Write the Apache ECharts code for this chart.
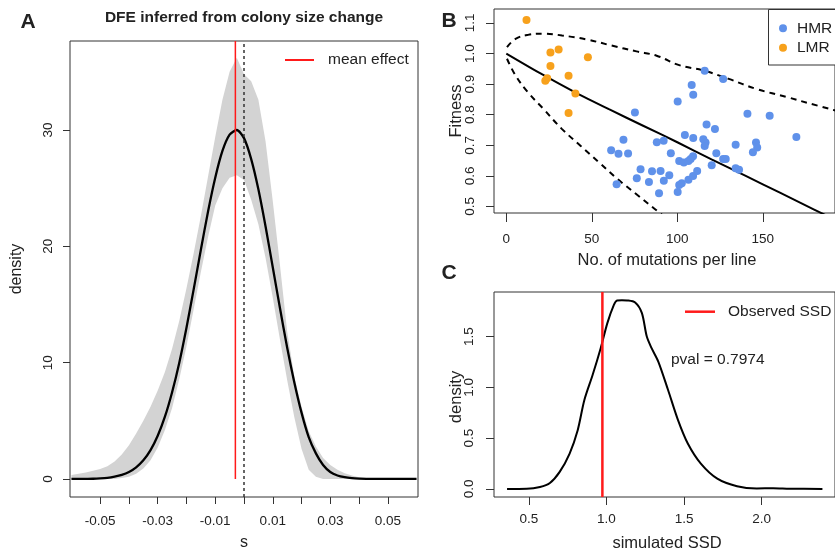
<!DOCTYPE html>
<html>
<head>
  <meta charset="utf-8" />
  <title>DFE figure</title>
  <style>
    html, body { margin: 0; padding: 0; background: #fff; }
    #chart { width: 835px; height: 551px; }
  </style>
</head>
<body>
  <div id="chart"></div>
  <script src="https://cdn.jsdelivr.net/npm/echarts@6.0.0/dist/echarts.min.js"></script>
  <script>
    // ---- panel A: DFE inferred from colony size change ----
    var sGrid = [-0.06, -0.0575, -0.055, -0.0525, -0.05, -0.0475, -0.045, -0.0425, -0.04, -0.0375,
      -0.035, -0.0325, -0.03, -0.0275, -0.025, -0.0225, -0.02, -0.0175, -0.015, -0.0125,
      -0.01, -0.0075, -0.005, -0.0025, 0, 0.0025, 0.005, 0.0075, 0.01, 0.0125,
      0.015, 0.0175, 0.02, 0.0225, 0.025, 0.0275, 0.03, 0.0325, 0.035, 0.0375,
      0.04, 0.0425, 0.045, 0.0475, 0.05, 0.0525, 0.055, 0.0575, 0.06];
    var dfeMean = [0, 0, 0.01, 0.02, 0.05, 0.10, 0.20, 0.35, 0.60, 1.00,
      1.60, 2.48, 3.71, 5.35, 7.46, 10.0, 13.0, 16.3, 19.7, 23.0,
      25.9, 28.2, 29.6, 30.0, 29.3, 27.5, 24.9, 21.7, 18.2, 14.7,
      11.3, 8.3, 5.7, 3.6, 2.2, 1.2, 0.6, 0.3, 0.15, 0.07,
      0.03, 0.01, 0, 0, 0, 0, 0, 0, 0];
    var dfeUpper = [0.35, 0.45, 0.55, 0.70, 0.85, 1.1, 1.5, 2.1, 2.9, 3.9,
      5.0, 6.2, 7.6, 9.2, 11.2, 13.6, 16.4, 19.4, 22.6, 26.0,
      29.4, 32.6, 35.0, 36.2, 34.8, 34.2, 32.6, 29.0, 23.9, 18.4,
      12.7, 8.8, 6.2, 4.1, 2.8, 1.8, 1.2, 0.8, 0.5, 0.3,
      0.15, 0.08, 0.03, 0, 0, 0, 0, 0, 0];
    var dfeLower = [0, 0, 0, 0, 0, 0, 0, 0.08, 0.2, 0.45,
      0.9, 1.6, 2.7, 4.2, 6.1, 8.6, 11.4, 14.6, 17.8, 20.8,
      23.5, 25.0, 25.9, 26.1, 25.7, 24.0, 21.9, 19.0, 15.6, 12.0,
      8.5, 5.3, 2.6, 0.8, 0.2, 0, 0, 0, 0, 0,
      0, 0, 0, 0, 0, 0, 0, 0, 0];
    var meanEffect = -0.003;
    var sTicks = [-0.05, -0.04, -0.03, -0.02, -0.01, 0, 0.01, 0.02, 0.03, 0.04, 0.05];
    var sLabels = [-0.05, -0.03, -0.01, 0.01, 0.03, 0.05];
    var densTicksA = [0, 10, 20, 30];

    // ---- panel B: fitness vs number of mutations ----
    var hmrMut = [61.3, 64.5, 65.6, 68.5, 71.2, 75.2, 76.3, 78.5, 83.4, 85.2, 88.0, 89.3, 90.2, 92.0, 92.1,
      95.3, 96.2, 100.2, 100.2, 101.1, 102.6, 101.1, 103.8, 106.5, 107.8, 109.2, 106.5, 109.2, 111.6,
      104.4, 109.3, 108.4, 109.3, 116.0, 126.8, 117.1, 122.0, 115.2, 116.5, 116.0, 122.8, 120.1,
      126.8, 128.3, 134.1, 134.1, 136.1, 141.0, 154.0, 146.0, 146.7, 144.2, 169.6];
    var hmrFit = [0.684, 0.573, 0.672, 0.718, 0.673, 0.807, 0.592, 0.622, 0.580, 0.615, 0.710, 0.543, 0.616, 0.715, 0.584,
      0.602, 0.674, 0.843, 0.547, 0.570, 0.576, 0.649, 0.644, 0.649, 0.655, 0.664, 0.587, 0.600, 0.616,
      0.734, 0.724, 0.897, 0.865, 0.944, 0.917, 0.768, 0.753, 0.720, 0.709, 0.698, 0.674, 0.635,
      0.655, 0.655, 0.702, 0.625, 0.620, 0.803, 0.797, 0.709, 0.693, 0.677, 0.727];
    var lmrMut = [11.8, 25.8, 30.6, 25.8, 47.7, 22.8, 23.9, 36.4, 40.4, 36.4];
    var lmrFit = [1.110, 1.003, 1.013, 0.959, 0.988, 0.911, 0.919, 0.927, 0.869, 0.806];
    var fitLineMut = [0, 20, 40, 60, 80, 100, 120, 140, 160, 180, 195];
    var fitLineVal = [1.0, 0.935, 0.874, 0.818, 0.764, 0.710, 0.654, 0.600, 0.545, 0.490, 0.449];
    var upperMut = [0.4, 5.4, 12.7, 21.7, 32.6, 47.1, 61.6, 76.1, 87.9, 101.1, 115.6, 130.1, 146.4, 164.5, 177.2, 195];
    var upperVal = [1.021, 1.048, 1.061, 1.065, 1.059, 1.046, 1.026, 1.007, 0.993, 0.962, 0.944, 0.917, 0.884, 0.857, 0.837, 0.81];
    var lowerMut = [0.4, 5.4, 12.7, 21.7, 32.6, 43.5, 54.3, 65.2, 76.1, 87.0, 95.0];
    var lowerVal = [0.983, 0.928, 0.873, 0.819, 0.753, 0.698, 0.644, 0.589, 0.540, 0.491, 0.455];
    var mutTicks = [0, 50, 100, 150, 200];
    var fitTicks = [0.5, 0.6, 0.7, 0.8, 0.9, 1.0, 1.1];

    // ---- panel C: simulated SSD ----
    var ssdX = [0.360, 0.487, 0.572, 0.636, 0.699, 0.763, 0.815, 0.858, 0.911, 0.963,
      1.006, 1.048, 1.069, 1.100, 1.133, 1.185, 1.228, 1.260, 1.291, 1.334,
      1.397, 1.461, 1.524, 1.608, 1.714, 1.841, 1.968, 2.074, 2.180, 2.391];
    var ssdDens = [0.0, 0.002, 0.020, 0.059, 0.168, 0.349, 0.579, 0.876, 1.122, 1.386,
      1.633, 1.813, 1.856, 1.858, 1.856, 1.836, 1.733, 1.500, 1.386, 1.254,
      0.974, 0.678, 0.448, 0.250, 0.102, 0.027, 0.005, 0.008, 0.003, 0.0];
    var observedSSD = 0.974;
    var pvalText = 'pval = 0.7974';
    var ssdTicks = [0.5, 1.0, 1.5, 2.0];
    var densTicksC = [0, 0.5, 1.0, 1.5];

    var FONT = '"Liberation Sans", Arial, Helvetica, sans-serif';
    var INK = '#222';
    var BOX = '#333';
    var RED = '#ff1a1a';
    var BLUE = '#5f91ea';
    var ORANGE = '#f7a11c';

    function pairs(xs, ys) {
      return xs.map(function (x, i) { return [x, ys[i]]; });
    }

    function xAxisOf(grid, min, max, ticks, labels, fmt, margin, tickLen) {
      return {
        gridIndex: grid, type: 'value', min: min, max: max,
        axisLine: { show: false, onZero: false }, splitLine: { show: false },
        axisTick: { show: true, length: tickLen, customValues: ticks, lineStyle: { color: BOX, width: 1 } },
        axisLabel: { customValues: labels, formatter: fmt, margin: margin,
          fontSize: 13.5, fontFamily: FONT, color: INK }
      };
    }

    function yAxisOf(grid, min, max, ticks, fmt, margin, tickLen) {
      return {
        gridIndex: grid, type: 'value', min: min, max: max,
        axisLine: { show: false, onZero: false }, splitLine: { show: false },
        axisTick: { show: true, length: tickLen, customValues: ticks, lineStyle: { color: BOX, width: 1 } },
        axisLabel: { customValues: ticks, formatter: fmt, margin: margin, rotate: 90,
          fontSize: 13.5, fontFamily: FONT, color: INK }
      };
    }

    function txt(x, y, text, size, opts) {
      opts = opts || {};
      return {
        type: 'text', x: x, y: y, z: 100,
        rotation: opts.rot || 0,
        style: {
          text: text, fill: INK,
          font: (opts.bold ? 'bold ' : '') + size + 'px ' + FONT,
          textAlign: opts.align || 'center', textVerticalAlign: 'middle'
        }
      };
    }

    function seg(x1, y1, x2, y2, color, w) {
      return { type: 'line', z: 100, shape: { x1: x1, y1: y1, x2: x2, y2: y2 },
        style: { stroke: color, lineWidth: w } };
    }

    // grey band between dfeLower and dfeUpper, mapped through panel A's axes
    function renderBand(params, api) {
      var pts = [];
      for (var i = 0; i < sGrid.length; i++) pts.push(api.coord([sGrid[i], dfeUpper[i]]));
      for (var j = sGrid.length - 1; j >= 0; j--) pts.push(api.coord([sGrid[j], dfeLower[j]]));
      return { type: 'polygon', shape: { points: pts }, style: { fill: '#d3d3d3' } };
    }

    var chart = echarts.init(document.getElementById('chart'), null, { renderer: 'canvas' });

    var option = {
      backgroundColor: '#fff',
      animation: false,
      grid: [
        { left: 70, top: 41, width: 348, height: 456, show: true, borderColor: BOX, borderWidth: 1 },
        { left: 494, top: 9, width: 367, height: 204, show: true, borderColor: BOX, borderWidth: 1 },
        { left: 494, top: 292, width: 346, height: 205, show: true, borderColor: BOX, borderWidth: 1 }
      ],
      xAxis: [
        xAxisOf(0, -0.0605, 0.0605, sTicks, sLabels, function (v) { return v.toFixed(2); }, 17, 7),
        xAxisOf(1, -7.2, 192.2, mutTicks, mutTicks, function (v) { return String(Math.round(v)); }, 19, 9),
        xAxisOf(2, 0.276, 2.472, ssdTicks, ssdTicks, function (v) { return v.toFixed(1); }, 15, 8)
      ],
      yAxis: [
        yAxisOf(0, -1.55, 37.65, densTicksA, function (v) { return String(Math.round(v)); }, 15, 7),
        yAxisOf(1, 0.4787, 1.1456, fitTicks, function (v) { return v.toFixed(1); }, 17, 8),
        yAxisOf(2, -0.079, 1.939, densTicksC, function (v) { return v.toFixed(1); }, 18, 8)
      ],
      series: [
        // A: grey band
        { type: 'custom', xAxisIndex: 0, yAxisIndex: 0, data: [[0, 0]], renderItem: renderBand,
          z: 1, silent: true },
        // A: mean DFE
        { type: 'line', xAxisIndex: 0, yAxisIndex: 0, data: pairs(sGrid, dfeMean),
          symbol: 'none', smooth: 0.25, lineStyle: { color: '#000', width: 2.3 }, z: 3 },
        // A: mean effect and zero line
        { type: 'line', xAxisIndex: 0, yAxisIndex: 0, data: [[meanEffect, 0], [meanEffect, 37.65]],
          symbol: 'none', lineStyle: { color: RED, width: 1.5 }, z: 4 },
        { type: 'line', xAxisIndex: 0, yAxisIndex: 0, data: [[0, -1.55], [0, 37.65]],
          symbol: 'none', lineStyle: { color: '#333', width: 1.5, type: [3, 3] }, z: 4 },

        // B
        { type: 'line', xAxisIndex: 1, yAxisIndex: 1, data: pairs(fitLineMut, fitLineVal),
          symbol: 'none', smooth: 0.3, lineStyle: { color: '#000', width: 2 }, z: 3 },
        { type: 'line', xAxisIndex: 1, yAxisIndex: 1, data: pairs(upperMut, upperVal),
          symbol: 'none', smooth: 0.4, lineStyle: { color: '#000', width: 2, type: [6, 5] }, z: 3 },
        { type: 'line', xAxisIndex: 1, yAxisIndex: 1, data: pairs(lowerMut, lowerVal),
          symbol: 'none', smooth: 0.4, lineStyle: { color: '#000', width: 2, type: [6, 5] }, z: 3 },
        { type: 'scatter', xAxisIndex: 1, yAxisIndex: 1, data: pairs(hmrMut, hmrFit),
          symbolSize: 8, itemStyle: { color: BLUE, opacity: 1 }, z: 5 },
        { type: 'scatter', xAxisIndex: 1, yAxisIndex: 1, data: pairs(lmrMut, lmrFit),
          symbolSize: 8, itemStyle: { color: ORANGE, opacity: 1 }, z: 5 },

        // C
        { type: 'line', xAxisIndex: 2, yAxisIndex: 2, data: pairs(ssdX, ssdDens),
          symbol: 'none', smooth: 0.3, lineStyle: { color: '#000', width: 2 }, z: 3 },
        { type: 'line', xAxisIndex: 2, yAxisIndex: 2, data: [[observedSSD, -0.079], [observedSSD, 1.939]],
          symbol: 'none', lineStyle: { color: RED, width: 2.5 }, z: 4 }
      ],
      graphic: [
        // panel letters and titles
        txt(28, 22, 'A', 21, { bold: true }),
        txt(449, 21, 'B', 21, { bold: true }),
        txt(449, 273, 'C', 21, { bold: true }),
        txt(244, 18, 'DFE inferred from colony size change', 15.5, { bold: true }),
        // axis titles
        txt(17, 269, 'density', 16, { rot: Math.PI / 2 }),
        txt(244, 543, 's', 16),
        txt(456, 111, 'Fitness', 16.5, { rot: Math.PI / 2 }),
        txt(667, 260, 'No. of mutations per line', 16.5),
        txt(456, 397, 'density', 16.5, { rot: Math.PI / 2 }),
        txt(667, 543, 'simulated SSD', 16.5),
        // legend A
        seg(285, 60, 314, 60, RED, 2),
        txt(328, 60, 'mean effect', 15.5, { align: 'left' }),
        // legend B
        { type: 'rect', z: 100, shape: { x: 768.5, y: 9.5, width: 90, height: 55.5 },
          style: { fill: '#fff', stroke: BOX, lineWidth: 1 } },
        { type: 'circle', z: 101, shape: { cx: 783, cy: 28.3, r: 4 }, style: { fill: BLUE } },
        { type: 'circle', z: 101, shape: { cx: 783, cy: 47.7, r: 4 }, style: { fill: ORANGE } },
        txt(797, 28.3, 'HMR', 15.5, { align: 'left' }),
        txt(797, 47.7, 'LMR', 15.5, { align: 'left' }),
        // legend C
        seg(685, 311.7, 715, 311.7, RED, 2.5),
        txt(728, 311.7, 'Observed SSD', 15.5, { align: 'left' }),
        txt(671, 360, pvalText, 15.5, { align: 'left' })
      ]
    };

    chart.setOption(option);
  </script>
</body>
</html>
